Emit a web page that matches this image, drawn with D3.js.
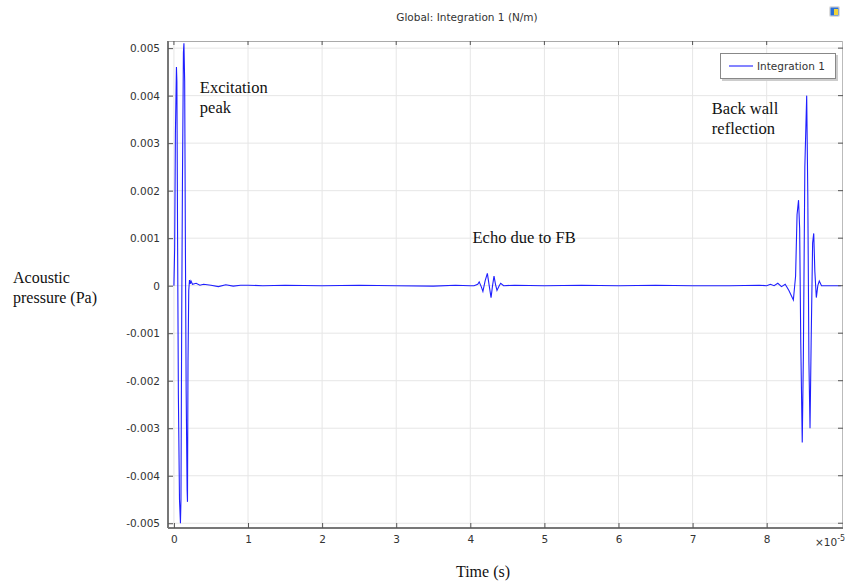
<!DOCTYPE html>
<html>
<head>
<meta charset="utf-8">
<script src="https://cdn.jsdelivr.net/npm/d3@7"></script>
<style>
  body { margin: 0; background: #fff; }
  svg { display: block; }
</style>
</head>
<body>
<div id="chart"></div>
<script>
// time in units of 1e-5 s, pressure in Pa
const timeE5 = [
  0, 0.01, 0.02, 0.034, 0.04, 0.05, 0.06, 0.075, 0.088, 0.095, 0.105, 0.115, 0.128, 0.135, 0.145,
  0.155, 0.165, 0.178, 0.183, 0.19, 0.2, 0.21, 0.22, 0.23, 0.25, 0.3, 0.35, 0.4, 0.5, 0.6, 0.7,
  0.8, 0.9, 1.0, 1.2, 1.5, 2.0, 2.5, 3.0, 3.5, 3.8, 4.0, 4.05, 4.1, 4.12, 4.15, 4.17, 4.2, 4.23,
  4.255, 4.28, 4.3, 4.32, 4.34, 4.36, 4.39, 4.41, 4.45, 4.6, 5.0, 5.5, 6.0, 6.5, 7.0, 7.5, 7.9,
  8.0, 8.05, 8.1, 8.15, 8.2, 8.25, 8.3, 8.36, 8.39, 8.41, 8.43, 8.445, 8.46, 8.48, 8.495, 8.515,
  8.54, 8.555, 8.57, 8.585, 8.6, 8.62, 8.635, 8.65, 8.67, 8.69, 8.71, 8.74, 8.8, 9.0
];
const pressure = [
  0, 0.0008, 0.0032, 0.0046, 0.0043, 0.0008, -0.0023, -0.0045, -0.0050, -0.0045, -0.0007, 0.0022, 0.0049, 0.0051, 0.0043,
  0.0008, -0.0022, -0.0043, -0.00455, -0.0016, -0.0001, 0.00012, 0.00004, 0.0001, 0.00003, 0.00005, 0.00001, 0.00003, 0.00001, -0.00002, 0.00002,
  -0.00001, 0.00001, 0.00001, 0, 0.00001, 0, 0.00001, 0, -0.00001, 0.00001, 0, 0, 0.00003, 0.00008, -0.00003, -0.00012, 0.0001, 0.00026,
  0, -0.00025, 0, 0.0002, 0.00003, -0.0001, 0, 0.00005, 0, 0.00001, 0, 0.00001, 0, 0.00001, 0, 0, 0.00001,
  0, 0.00003, 0, 0.00005, -0.00002, 0.00003, -0.0001, -0.0003, 0.0002, 0.0015, 0.0018, 0.0012, -0.0012, -0.0033, -0.0015, 0.0025,
  0.0040, 0.0019, -0.0016, -0.0030, -0.0012, 0.0009, 0.0011, 0.0003, -0.00025, 0, 0.0001, 0, 0, 0
];
const xTicks = [0, 1, 2, 3, 4, 5, 6, 7, 8];
const yTicks = [0.005, 0.004, 0.003, 0.002, 0.001, 0, -0.001, -0.002, -0.003, -0.004, -0.005];
const yTickLabels = ['0.005', '0.004', '0.003', '0.002', '0.001', '0', '-0.001', '-0.002', '-0.003', '-0.004', '-0.005'];
const annotations = [
  { lines: ['Excitation', 'peak'], t: 0.35, p: 0.00405 },
  { lines: ['Echo due to FB'], t: 4.03, p: 0.00089 },
  { lines: ['Back wall', 'reflection'], t: 7.26, p: 0.00362 }
];

const width = 848, height = 585;
const margin = { top: 41, right: 5, bottom: 57, left: 168 };

const svg = d3.select('#chart').append('svg')
  .attr('width', width)
  .attr('height', height);

const x = d3.scaleLinear().domain([-0.08, 9.03]).range([margin.left, width - margin.right]);
const y = d3.scaleLinear().domain([-0.0051, 0.00515]).range([height - margin.bottom, margin.top]);

const plotW = width - margin.left - margin.right;
const plotH = height - margin.top - margin.bottom;

// title
svg.append('text')
  .attr('x', 467).attr('y', 21)
  .attr('text-anchor', 'middle')
  .attr('font-family', 'DejaVu Sans, sans-serif')
  .attr('font-size', 10.5)
  .attr('fill', '#333')
  .text('Global: Integration 1 (N/m)');

// small icon top right
const icon = svg.append('g').attr('transform', 'translate(829,6)');
icon.append('rect').attr('width', 11).attr('height', 11).attr('rx', 2).attr('fill', '#ddd');
icon.append('rect').attr('x', 1.5).attr('y', 1.5).attr('width', 8).attr('height', 8).attr('fill', '#2a6fd6');
icon.append('rect').attr('x', 5).attr('y', 3).attr('width', 4).attr('height', 6).attr('fill', '#f2d43a');

// grid
const grid = svg.append('g').attr('class', 'grid');
grid.selectAll('.vgrid').data(xTicks).enter().append('line')
  .attr('x1', d => x(d)).attr('x2', d => x(d))
  .attr('y1', margin.top).attr('y2', margin.top + plotH)
  .attr('stroke', '#e6e6e6');
grid.selectAll('.hgrid').data(yTicks).enter().append('line')
  .attr('x1', margin.left).attr('x2', margin.left + plotW)
  .attr('y1', d => y(d)).attr('y2', d => y(d))
  .attr('stroke', '#e6e6e6');

// frame: top and right light
svg.append('line').attr('x1', margin.left).attr('x2', margin.left + plotW)
  .attr('y1', margin.top + 0.5).attr('y2', margin.top + 0.5).attr('stroke', '#aaa');
svg.append('line').attr('x1', margin.left + plotW - 0.5).attr('x2', margin.left + plotW - 0.5)
  .attr('y1', margin.top).attr('y2', margin.top + plotH).attr('stroke', '#bbb');

// data line
const line = d3.line()
  .x((d, i) => x(timeE5[i]))
  .y(d => y(d));

svg.append('path')
  .datum(pressure)
  .attr('fill', 'none')
  .attr('stroke', '#1f1fff')
  .attr('stroke-width', 1.1)
  .attr('d', line);

// axes
const xAxis = d3.axisBottom(x).tickValues(xTicks).tickSize(-5).tickPadding(8).tickFormat(d3.format('d'));
const yAxis = d3.axisLeft(y).tickValues(yTicks).tickSize(-5).tickPadding(8).tickFormat((d, i) => yTickLabels[i]);

const gx = svg.append('g').attr('transform', `translate(0,${margin.top + plotH})`).call(xAxis);
const gy = svg.append('g').attr('transform', `translate(${margin.left},0)`).call(yAxis);

[gx, gy].forEach(g => {
  g.select('.domain').attr('stroke', '#777').attr('stroke-width', 2);
  g.selectAll('.tick line').attr('stroke', '#555');
  g.selectAll('.tick text')
    .attr('font-family', 'DejaVu Sans, sans-serif')
    .attr('font-size', 10.5)
    .attr('fill', '#333');
});
gx.select('.domain').attr('d', `M${margin.left},0H${margin.left + plotW}`);
gy.select('.domain').attr('d', `M0,${margin.top}V${margin.top + plotH}`);

// mirrored ticks on top and right
svg.append('g').selectAll('line').data(xTicks).enter().append('line')
  .attr('x1', d => x(d)).attr('x2', d => x(d))
  .attr('y1', margin.top).attr('y2', margin.top + 4)
  .attr('stroke', '#555');
svg.append('g').selectAll('line').data(yTicks).enter().append('line')
  .attr('x1', margin.left + plotW - 5).attr('x2', margin.left + plotW)
  .attr('y1', d => y(d)).attr('y2', d => y(d))
  .attr('stroke', '#555');

// x multiplier
const mult = svg.append('text')
  .attr('x', 815).attr('y', 546)
  .attr('font-family', 'DejaVu Sans, sans-serif')
  .attr('font-size', 10.5)
  .attr('fill', '#333');
mult.append('tspan').text('\u00d710');
mult.append('tspan').attr('dy', -5).attr('font-size', 8).text('-5');

// axis labels
const serif = 'Liberation Serif, Times New Roman, serif';
svg.append('text')
  .attr('x', 483).attr('y', 577)
  .attr('text-anchor', 'middle')
  .attr('font-family', serif).attr('font-size', 16).attr('fill', '#111')
  .text('Time (s)');
const yl = svg.append('text')
  .attr('font-family', serif).attr('font-size', 16).attr('fill', '#111');
yl.append('tspan').attr('x', 13).attr('y', 283).text('Acoustic');
yl.append('tspan').attr('x', 13).attr('y', 303).text('pressure (Pa)');

// annotations
annotations.forEach(a => {
  const t = svg.append('text')
    .attr('font-family', serif).attr('font-size', 16.5).attr('fill', '#111');
  a.lines.forEach((s, i) => {
    t.append('tspan').attr('x', x(a.t)).attr('y', y(a.p) + i * 20).text(s);
  });
});

// legend
const lg = svg.append('g').attr('transform', 'translate(720,53)');
lg.append('rect').attr('x', 2).attr('y', 2).attr('width', 116).attr('height', 26)
  .attr('fill', '#ccc');
lg.append('rect').attr('x', 0.5).attr('y', 0.5).attr('width', 115).attr('height', 25)
  .attr('fill', '#fff').attr('stroke', '#888').attr('stroke-width', 1);
lg.append('line').attr('x1', 9).attr('x2', 33).attr('y1', 13).attr('y2', 13)
  .attr('stroke', '#1f1fff').attr('stroke-width', 1.1);
lg.append('text').attr('x', 37).attr('y', 17)
  .attr('font-family', 'DejaVu Sans, sans-serif')
  .attr('font-size', 10.5).attr('fill', '#333')
  .text('Integration 1');
</script>
</body>
</html>
